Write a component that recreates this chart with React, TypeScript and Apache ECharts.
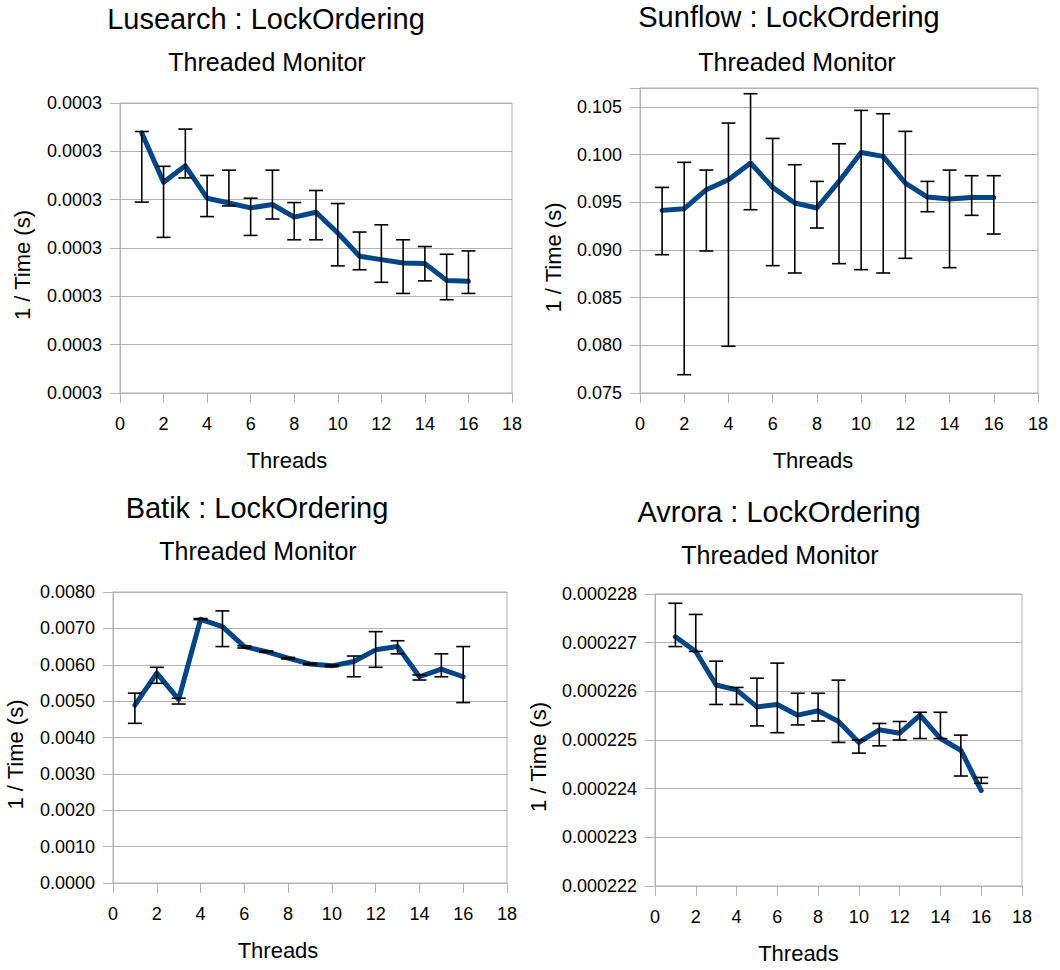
import React, { useEffect, useRef } from "react";
import * as echarts from "echarts";

// Thread counts shared by every benchmark
const THREADS = [1, 2, 3, 4, 5, 6, 7, 8, 9, 10, 11, 12, 13, 14, 15, 16];

// Lusearch : 1 / time, with upper and lower error limits
const LU_MEAN = [0.0003138, 0.0003036, 0.000307, 0.0003003, 0.0002993, 0.0002983, 0.000299, 0.0002964, 0.0002974, 0.0002931, 0.0002883, 0.0002876, 0.0002869, 0.0002868, 0.0002833, 0.0002831];
const LU_HIGH = [0.0003141, 0.0003069, 0.0003146, 0.000305, 0.0003061, 0.0003003, 0.0003061, 0.0002994, 0.0003019, 0.0002992, 0.0002933, 0.0002948, 0.0002917, 0.0002903, 0.0002887, 0.0002894];
const LU_LOW = [0.0002995, 0.0002922, 0.0003045, 0.0002965, 0.0002987, 0.0002926, 0.000296, 0.0002917, 0.0002917, 0.0002863, 0.0002855, 0.0002829, 0.0002806, 0.0002832, 0.0002793, 0.0002806];

// Sunflow
const SF_MEAN = [0.09416, 0.09434, 0.09633, 0.09738, 0.09913, 0.09657, 0.09493, 0.09441, 0.0972, 0.10024, 0.09983, 0.09703, 0.09556, 0.09535, 0.09552, 0.09552];
const SF_HIGH = [0.09657, 0.0992, 0.09839, 0.10332, 0.1064, 0.10171, 0.09895, 0.0972, 0.10115, 0.10465, 0.1043, 0.10245, 0.0972, 0.09839, 0.0978, 0.0978];
const SF_LOW = [0.08951, 0.07692, 0.0899, 0.0799, 0.09423, 0.08836, 0.08759, 0.09231, 0.08857, 0.08794, 0.08759, 0.08913, 0.09402, 0.08815, 0.09364, 0.09168];

// Batik
const BA_MEAN = [0.00489, 0.00577, 0.00505, 0.00725, 0.00705, 0.0065, 0.00636, 0.00618, 0.00602, 0.00597, 0.00609, 0.00641, 0.0065, 0.00567, 0.00588, 0.00567];
const BA_HIGH = [0.00522, 0.00593, 0.00508, 0.00727, 0.00748, 0.00652, 0.00638, 0.0062, 0.00604, 0.00599, 0.00624, 0.00691, 0.00666, 0.00572, 0.0063, 0.0065];
const BA_LOW = [0.00439, 0.00549, 0.00492, 0.00724, 0.0065, 0.00646, 0.00634, 0.00616, 0.006, 0.00595, 0.00567, 0.00593, 0.0063, 0.00558, 0.00567, 0.00496];

// Avrora
const AV_MEAN = [0.00022712, 0.00022682, 0.00022613, 0.00022603, 0.00022568, 0.00022573, 0.00022551, 0.0002256, 0.00022538, 0.00022495, 0.00022521, 0.00022514, 0.00022551, 0.00022503, 0.00022479, 0.00022396];
const AV_HIGH = [0.00022781, 0.00022758, 0.00022662, 0.00022608, 0.00022627, 0.00022658, 0.00022596, 0.00022596, 0.00022623, 0.000225, 0.00022534, 0.00022538, 0.00022557, 0.00022557, 0.0002251, 0.00022423];
const AV_LOW = [0.00022692, 0.00022682, 0.00022573, 0.00022573, 0.00022529, 0.00022515, 0.00022531, 0.00022539, 0.00022495, 0.00022473, 0.00022488, 0.000225, 0.00022503, 0.00022503, 0.00022426, 0.00022411];

const SUBTITLE = "Threaded Monitor";
const X_NAME = "Threads";
const Y_NAME = "1 / Time (s)";

const FONT = "'Liberation Sans', Arial, sans-serif";
const LINE_COLOR = "#004586";
const GRID_COLOR = "#b3b3b3";

type Panel = {
  title: string;
  mean: number[];
  high: number[];
  low: number[];
  yMin: number;
  yMax: number;
  yStep: number;
  decimals: number;
  box: { left: number; top: number; width: number; height: number };
  titlePos: [number, number];
  subPos: [number, number];
  yNameGap: number;
  xNameShift: number;
};

const PANELS: Panel[] = [
  {
    title: "Lusearch : LockOrdering",
    mean: LU_MEAN, high: LU_HIGH, low: LU_LOW,
    yMin: 0.00026, yMax: 0.00032, yStep: 0.00001, decimals: 4,
    box: { left: 120, top: 103, width: 392, height: 290 },
    titlePos: [266, 19], subPos: [267, 62],
    yNameGap: 87, xNameShift: 29,
  },
  {
    title: "Sunflow : LockOrdering",
    mean: SF_MEAN, high: SF_HIGH, low: SF_LOW,
    yMin: 0.075, yMax: 0.107, yStep: 0.005, decimals: 3,
    box: { left: 640, top: 88, width: 398, height: 305 },
    titlePos: [789, 17], subPos: [797, 62],
    yNameGap: 76, xNameShift: 26,
  },
  {
    title: "Batik : LockOrdering",
    mean: BA_MEAN, high: BA_HIGH, low: BA_LOW,
    yMin: 0, yMax: 0.008, yStep: 0.001, decimals: 4,
    box: { left: 113, top: 592, width: 394, height: 291 },
    titlePos: [257, 508], subPos: [258, 551],
    yNameGap: 87, xNameShift: 32,
  },
  {
    title: "Avrora : LockOrdering",
    mean: AV_MEAN, high: AV_HIGH, low: AV_LOW,
    yMin: 0.000222, yMax: 0.000228, yStep: 0.000001, decimals: 6,
    box: { left: 655, top: 594, width: 367, height: 292 },
    titlePos: [779, 512], subPos: [780, 555],
    yNameGap: 106, xNameShift: 40,
  },
];

function buildOption() {
  const grid: any[] = [];
  const xAxis: any[] = [];
  const yAxis: any[] = [];
  const series: any[] = [];
  const graphic: any[] = [];

  PANELS.forEach((p, i) => {
    grid.push({
      left: p.box.left,
      top: p.box.top,
      width: p.box.width,
      height: p.box.height,
      show: true,
      borderColor: GRID_COLOR,
      borderWidth: 1,
      backgroundColor: "transparent",
      containLabel: false,
    });

    xAxis.push({
      type: "value",
      gridIndex: i,
      min: 0,
      max: 18,
      interval: 2,
      name: X_NAME,
      nameLocation: "middle",
      nameGap: 56,
      nameTextStyle: {
        fontFamily: FONT,
        fontSize: 22,
        color: "#000",
        padding: [0, p.xNameShift * 2, 0, 0],
      },
      axisLine: { show: true, lineStyle: { color: GRID_COLOR, width: 1 } },
      axisTick: { show: true, inside: false, length: 10, lineStyle: { color: GRID_COLOR } },
      axisLabel: { fontFamily: FONT, fontSize: 18, color: "#000", margin: 22 },
      splitLine: { show: false },
    });

    const { yMin, yStep, decimals } = p;
    yAxis.push({
      type: "value",
      gridIndex: i,
      min: p.yMin,
      max: p.yMax,
      interval: p.yStep,
      name: Y_NAME,
      nameLocation: "middle",
      nameGap: p.yNameGap,
      nameTextStyle: {
        fontFamily: FONT,
        fontSize: 22,
        color: "#000",
        padding: [0, 34, 0, 0],
      },
      axisLine: { show: true, lineStyle: { color: GRID_COLOR, width: 1 } },
      axisTick: { show: true, inside: false, length: 10, lineStyle: { color: GRID_COLOR } },
      axisLabel: {
        fontFamily: FONT,
        fontSize: 18,
        color: "#000",
        margin: 18,
        formatter: (v: number) => {
          const k = (v - yMin) / yStep;
          if (Math.abs(k - Math.round(k)) > 1e-6) return "";
          return v.toFixed(decimals);
        },
      },
      splitLine: { show: true, lineStyle: { color: GRID_COLOR, width: 1 } },
    });

    series.push({
      type: "line",
      xAxisIndex: i,
      yAxisIndex: i,
      data: THREADS.map((t, k) => [t, p.mean[k]]),
      showSymbol: false,
      symbol: "none",
      lineStyle: { color: LINE_COLOR, width: 5, join: "round", cap: "round" },
      itemStyle: { color: LINE_COLOR },
      z: 2,
    });

    series.push({
      type: "custom",
      xAxisIndex: i,
      yAxisIndex: i,
      data: THREADS.map((t, k) => [t, p.low[k], p.high[k]]),
      encode: { x: 0, y: [1, 2] },
      z: 3,
      renderItem: (_params: any, api: any) => {
        const x = api.value(0);
        const lo = api.coord([x, api.value(1)]);
        const hi = api.coord([x, api.value(2)]);
        const half = 7;
        const style = { stroke: "#000", lineWidth: 1.6, fill: "none" };
        return {
          type: "group",
          children: [
            { type: "line", shape: { x1: hi[0], y1: hi[1], x2: lo[0], y2: lo[1] }, style },
            { type: "line", shape: { x1: hi[0] - half, y1: hi[1], x2: hi[0] + half, y2: hi[1] }, style },
            { type: "line", shape: { x1: lo[0] - half, y1: lo[1], x2: lo[0] + half, y2: lo[1] }, style },
          ],
        };
      },
    });

    graphic.push({
      type: "text",
      x: p.titlePos[0],
      y: p.titlePos[1],
      style: {
        text: p.title,
        font: `29px ${FONT}`,
        fill: "#000",
        textAlign: "center",
        textVerticalAlign: "middle",
      },
    });
    graphic.push({
      type: "text",
      x: p.subPos[0],
      y: p.subPos[1],
      style: {
        text: SUBTITLE,
        font: `25px ${FONT}`,
        fill: "#000",
        textAlign: "center",
        textVerticalAlign: "middle",
      },
    });
  });

  return {
    animation: false,
    backgroundColor: "#ffffff",
    grid,
    xAxis,
    yAxis,
    series,
    graphic,
  };
}

export default function App() {
  const ref = useRef<HTMLDivElement>(null);

  useEffect(() => {
    document.body.style.margin = "0";
    if (!ref.current) return;
    const chart = echarts.init(ref.current, undefined, { renderer: "svg" });
    chart.setOption(buildOption());
    return () => {
      chart.dispose();
    };
  }, []);

  return <div ref={ref} style={{ width: 1060, height: 970 }} />;
}
